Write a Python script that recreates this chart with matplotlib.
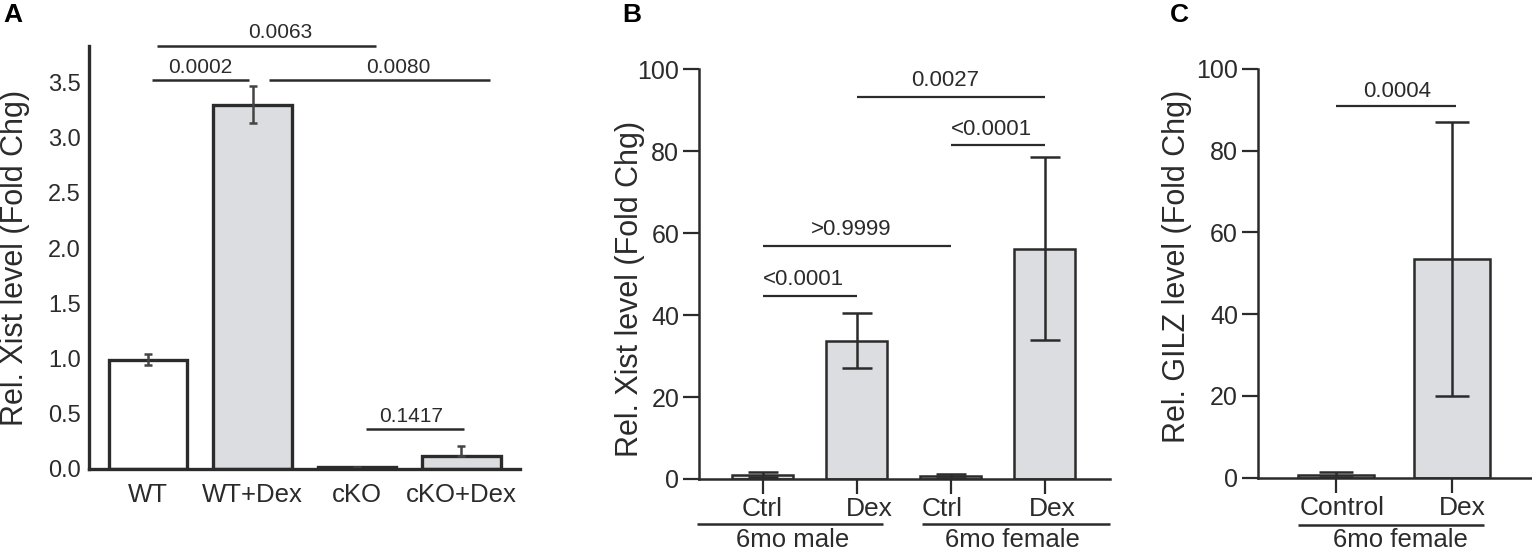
import matplotlib
matplotlib.use('Agg')
import matplotlib.pyplot as plt
import matplotlib.transforms as mtransforms

plt.rcParams['font.family'] = ['Liberation Sans', 'DejaVu Sans']

INK = '#2b2b2b'
GRAY = '#dcdde0'

# panel A - Xist, WT vs cKO
a_groups = ['WT', 'WT+Dex', 'cKO', 'cKO+Dex']
a_means = [0.99, 3.30, 0.015, 0.12]
a_err_lo = [0.05, 0.165, 0.005, 0.005]
a_err_hi = [0.05, 0.165, 0.005, 0.085]
a_fill = ['white', GRAY, GRAY, GRAY]
# (x1, x2, y, label, text x)
a_pvals = [(0.086, 2.185, 3.83, '0.0063', 1.27),
           (0.038, 0.964, 3.52, '0.0002', 0.50),
           (1.155, 3.273, 3.52, '0.0080', 2.40),
           (2.09, 3.025, 0.358, '0.1417', 2.52)]

# panel B - Xist, 6mo male / female
b_groups = ['Ctrl', 'Dex', 'Ctrl', 'Dex']
b_means = [1.0, 33.8, 0.8, 56.2]
b_err = [0.6, 6.7, 0.5, 22.3]
b_pvals = [(1, 3, 93.3, '0.0027', 1.94),
           (2, 3, 81.5, '<0.0001', 2.43),
           (0, 2, 56.9, '>0.9999', 0.94),
           (0, 1, 44.7, '<0.0001', 0.43)]
b_sets = [('6mo male', -0.70, 1.285, 0.32), ('6mo female', 1.694, 3.697, 2.66)]
b_label_shift = [0, 13, -8, 8]   # px, labels sit a bit off their ticks

# panel C - GILZ
c_groups = ['Control', 'Dex']
c_means = [0.8, 53.5]
c_err = [0.5, 33.5]
c_pvals = [(0, 1.03, 91.0, '0.0004', 0.53)]
c_sets = [('6mo female', -0.328, 1.271, 0.56)]
c_label_shift = [6, 10]


def pval_lines(ax, pvals, lw, off, size):
    for x1, x2, y, lab, tx in pvals:
        ax.plot([x1, x2], [y, y], color=INK, lw=lw, clip_on=False,
                solid_capstyle='butt')
        ax.annotate(lab, xy=(tx, y), xytext=(0, off), textcoords='offset points',
                    ha='center', va='center', fontsize=size, color=INK,
                    annotation_clip=False)


def group_lines(ax, sets, yline, ytext):
    tr = mtransforms.blended_transform_factory(ax.transData, ax.transAxes)
    for lab, x1, x2, tx in sets:
        ax.plot([x1, x2], [yline, yline], color=INK, lw=1.8, transform=tr,
                clip_on=False, solid_capstyle='butt')
        ax.text(tx, ytext, lab, transform=tr, ha='center', va='baseline',
                fontsize=18.5, color=INK)


def shift_labels(ax, shifts):
    for lbl, dx in zip(ax.get_xticklabels(), shifts):
        off = mtransforms.ScaledTranslation(dx / 100, 0, ax.figure.dpi_scale_trans)
        lbl.set_transform(lbl.get_transform() + off)


fig = plt.figure(figsize=(15.32, 5.52), dpi=100)

# ---- A
axA = fig.add_axes([0.0581, 0.1504, 0.2813, 0.7663])
xa = range(len(a_groups))
axA.bar(xa, a_means, width=0.75, color=a_fill, edgecolor=INK, linewidth=2.4)
axA.errorbar(xa, a_means, yerr=[a_err_lo, a_err_hi], fmt='none', ecolor='#444444',
             elinewidth=1.8, capsize=3, capthick=1.8)
axA.set_xlim(-0.565, 3.56)
axA.set_ylim(0, 3.83)
axA.set_yticks([0, 0.5, 1.0, 1.5, 2.0, 2.5, 3.0, 3.5])
axA.set_yticklabels(['0.0', '0.5', '1.0', '1.5', '2.0', '2.5', '3.0', '3.5'])
axA.set_xticks(list(xa))
axA.set_xticklabels(a_groups)
axA.tick_params(axis='y', length=0, pad=6, labelsize=17, labelcolor=INK)
axA.tick_params(axis='x', length=0, pad=10, labelsize=18.5, labelcolor=INK)
for s in ['top', 'right']:
    axA.spines[s].set_visible(False)
for s in ['left', 'bottom']:
    axA.spines[s].set_linewidth(2.4)
    axA.spines[s].set_color(INK)
axA.text(-0.172, 0.499, 'Rel. Xist level (Fold Chg)', transform=axA.transAxes,
         rotation=90, ha='center', va='center', fontsize=22, color=INK)
pval_lines(axA, a_pvals, 1.8, 9.5, 15)

# ---- B
axB = fig.add_axes([0.4565, 0.1324, 0.2681, 0.7418])
xb = range(len(b_groups))
axB.bar(xb, b_means, width=0.656, color=GRAY, edgecolor=INK, linewidth=1.8)
axB.errorbar(xb, b_means, yerr=b_err, fmt='none', ecolor=INK,
             elinewidth=1.8, capsize=11, capthick=1.8)
axB.set_xlim(-0.672, 3.697)
axB.set_ylim(0, 100)
axB.set_yticks([0, 20, 40, 60, 80, 100])
axB.set_xticks(list(xb))
axB.set_xticklabels(b_groups)
axB.tick_params(axis='y', length=11.5, width=1.6, pad=3, labelsize=18,
                color=INK, labelcolor=INK)
axB.tick_params(axis='x', length=11, width=1.6, pad=2, labelsize=19,
                color=INK, labelcolor=INK)
shift_labels(axB, b_label_shift)
for s in ['top', 'right']:
    axB.spines[s].set_visible(False)
for s in ['left', 'bottom']:
    axB.spines[s].set_linewidth(1.8)
    axB.spines[s].set_color(INK)
axB.text(-0.169, 0.464, 'Rel. Xist level (Fold Chg)', transform=axB.transAxes,
         rotation=90, ha='center', va='center', fontsize=22, color=INK)
pval_lines(axB, b_pvals, 1.6, 11.5, 16)
group_lines(axB, b_sets, -0.110, -0.1663)

# ---- C
axC = fig.add_axes([0.8213, 0.1344, 0.1787, 0.7411])
xc = range(len(c_groups))
axC.bar(xc, c_means, width=0.656, color=GRAY, edgecolor=INK, linewidth=1.8)
axC.errorbar(xc, c_means, yerr=c_err, fmt='none', ecolor=INK,
             elinewidth=1.8, capsize=12.5, capthick=1.8)
axC.set_xlim(-0.666, 1.686)
axC.set_ylim(0, 100)
axC.set_yticks([0, 20, 40, 60, 80, 100])
axC.set_xticks(list(xc))
axC.set_xticklabels(c_groups)
axC.tick_params(axis='y', length=11.5, width=1.6, pad=3, labelsize=18,
                color=INK, labelcolor=INK)
axC.tick_params(axis='x', length=11, width=1.6, pad=2, labelsize=19,
                color=INK, labelcolor=INK)
shift_labels(axC, c_label_shift)
for s in ['top', 'right']:
    axC.spines[s].set_visible(False)
for s in ['left', 'bottom']:
    axC.spines[s].set_linewidth(1.8)
    axC.spines[s].set_color(INK)
axC.text(-0.298, 0.5165, 'Rel. GILZ level (Fold Chg)', transform=axC.transAxes,
         rotation=90, ha='center', va='center', fontsize=22, color=INK)
pval_lines(axC, c_pvals, 1.6, 10, 16)
group_lines(axC, c_sets, -0.1154, -0.1692)

# panel letters
for lab, xp in [('A', 13), ('B', 632), ('C', 1179)]:
    fig.text(xp / 1532, 1 - 15 / 552, lab, ha='center', va='center',
             fontsize=19, fontweight='bold', color='black')

fig.savefig('out.png', dpi=100)
